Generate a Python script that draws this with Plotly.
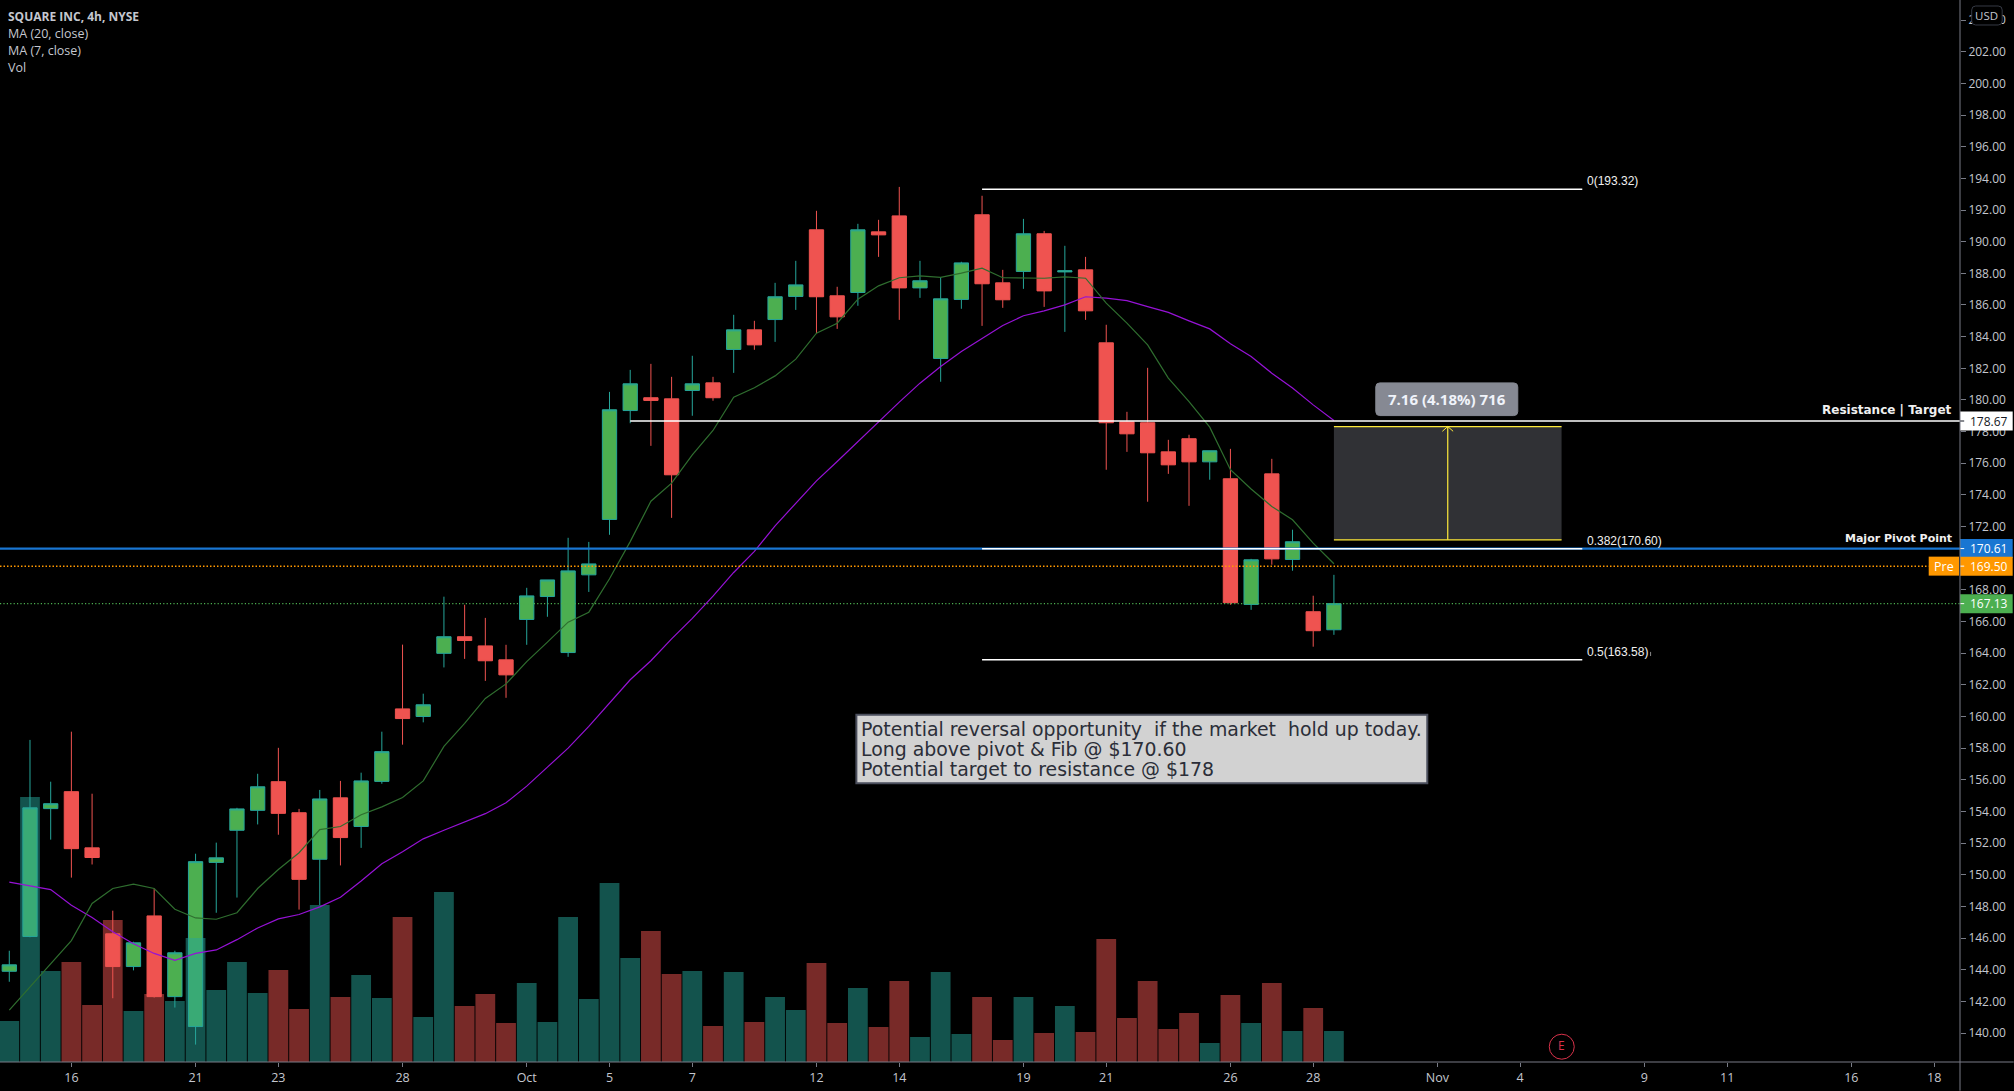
import plotly.graph_objects as go

# ---------- data ----------
bar_index = list(range(65))
opens = [143.90,146.10,154.18,155.25,151.70,146.27,144.20,147.40,142.30,140.41,150.78,152.81,154.07,155.88,153.92,150.98,154.86,153.05,155.90,160.48,160.00,163.99,165.04,164.46,163.58,166.13,167.58,164.04,168.95,172.45,179.33,180.14,180.07,180.60,181.08,183.19,184.43,185.08,186.54,190.75,186.58,186.79,190.62,191.63,187.08,182.62,186.35,191.70,187.40,188.12,190.50,188.09,188.22,183.61,178.62,178.56,176.72,177.55,176.09,175.02,167.08,175.33,169.92,166.62,165.48]
highs = [145.20,158.52,155.88,159.04,155.12,147.73,145.77,149.13,145.20,151.33,152.03,154.23,156.38,158.02,154.16,155.36,155.93,156.45,159.04,164.54,161.44,167.57,167.06,166.23,164.53,168.13,168.63,171.29,171.03,180.51,181.90,182.28,181.46,182.79,181.46,185.38,185.00,187.40,188.79,191.95,187.15,191.13,191.38,193.46,188.79,187.76,188.73,192.90,188.22,191.44,190.68,189.74,189.04,184.75,179.25,182.03,177.48,177.80,176.79,176.91,169.96,176.28,171.80,167.63,168.95]
lows = [143.24,146.05,152.22,149.82,150.65,142.20,143.96,142.24,141.61,139.27,147.60,148.56,153.18,152.53,147.80,148.08,150.59,151.70,155.75,158.22,159.63,163.10,163.64,162.25,161.18,164.53,166.30,163.77,167.87,171.48,178.53,177.10,172.55,179.00,179.95,181.71,183.17,183.67,185.69,184.22,184.49,185.95,189.04,185.06,186.45,181.15,185.76,184.68,185.82,187.02,185.88,184.30,185.06,175.59,176.72,173.57,175.33,173.31,174.96,167.06,166.74,169.59,169.21,164.41,165.16]
closes = [144.31,154.23,154.49,151.65,151.09,144.20,145.70,142.30,145.07,150.83,151.07,154.16,155.56,153.88,149.71,154.79,152.35,155.93,157.78,159.87,160.74,165.04,164.80,163.52,162.63,167.62,168.63,169.20,169.64,179.38,181.02,179.97,175.27,181.02,180.14,184.43,183.48,186.52,187.27,186.52,185.25,190.75,190.43,187.08,187.53,186.39,188.66,187.34,186.33,190.50,186.89,188.16,185.63,178.56,177.86,176.66,175.90,176.09,176.79,167.19,169.90,169.96,171.04,165.42,167.13]
volumes = [41,265,91,100,57,142,51,68,61,124,72,100,69,92,53,157,65,87,64,145,45,170,56,68,39,79,40,145,63,179,104,131,88,91,36,90,40,65,52,99,39,74,35,81,25,90,28,65,22,65,29,56,30,123,44,81,33,49,19,67,39,79,31,54,31]
ma7 = [141.45,142.91,144.37,145.84,148.19,149.13,149.41,149.13,147.82,147.27,147.19,147.60,149.13,150.33,151.39,152.85,153.05,153.79,154.29,154.88,155.93,158.11,159.57,161.14,162.06,163.47,164.70,165.96,166.59,168.70,171.05,173.60,174.74,176.53,178.07,180.18,180.77,181.52,182.58,184.22,184.85,186.37,187.21,187.72,187.84,187.74,188.01,188.33,187.72,187.69,187.69,187.78,187.69,186.12,184.85,183.48,181.38,179.90,178.28,175.59,174.37,173.27,172.43,170.95,169.65]
ma20 = [149.54,149.32,149.06,148.08,147.30,146.40,145.64,145.03,144.59,145.03,145.25,145.90,146.64,147.21,147.49,147.97,148.58,149.61,150.70,151.46,152.27,152.81,153.31,153.86,154.55,155.60,156.80,158.00,159.37,160.84,162.32,163.52,164.90,166.20,167.60,169.10,170.43,172.05,173.48,174.89,176.11,177.38,178.64,179.86,181.06,182.11,183.06,183.90,184.70,185.32,185.63,186.01,186.52,186.43,186.28,185.90,185.53,185.00,184.49,183.55,182.75,181.69,180.75,179.69,178.70]

x_tick_positions = [3,9,13,19,25,29,33,39,43,49,53,59,63,69,73,79,83,89,93]
x_tick_labels = ["16","21","23","28","Oct","5","7","12","14","19","21","26","28","Nov","4","9","11","16","18"]

fib_levels = [0, 0.382, 0.5]
fib_prices = [193.32, 170.60, 163.58]
fib_start, fib_end = 47, 76
resistance_price, resistance_start = 178.67, 30
pivot_price = 170.61
pre_price = 169.50
last_price = 167.13
measure_low, measure_high = 171.16, 178.32
measure_start, measure_end, measure_mid = 64, 75, 69.5

note_lines = ["Potential reversal opportunity\u00a0\u00a0if the market\u00a0\u00a0hold up today.",
              "Long above pivot & Fib @ $170.60",
              "Potential target to resistance @ $178"]
legend_lines = ["<b>SQUARE INC, 4h, NYSE</b>", "MA (20, close)", "MA (7, close)", "Vol"]
legend_sizes = [12, 12.5, 12.5, 12.5]

# ---------- layout constants ----------
W, H = 2014, 1091
PLOT_W, PLOT_H = 1960.3, 1062.3
X_RANGE = [-0.449, 94.25]
Y_RANGE = [138.17, 205.27]
PX_PER_UNIT = PLOT_H / (Y_RANGE[1] - Y_RANGE[0])
BG = "#000000"
AXIS = "#787b86"
TXT = "#c4c7cf"
UP_FILL, UP_LINE, DOWN = "#4caf50", "#26a69a", "#ef5350"
VOL_UP, VOL_DOWN = "rgba(38,166,154,0.5)", "rgba(239,83,80,0.5)"
FONT = "Open Sans"

px = lambda v: v / PLOT_W
py = lambda v: 1 - v / PLOT_H

fig = go.Figure()
fig.add_trace(go.Candlestick(
    x=bar_index, open=opens, high=highs, low=lows, close=closes, xaxis="x", yaxis="y",
    whiskerwidth=0,
    increasing=dict(fillcolor=UP_FILL, line=dict(color=UP_LINE, width=1)),
    decreasing=dict(fillcolor=DOWN, line=dict(color=DOWN, width=1)),
    hoverinfo="skip", showlegend=False))
fig.add_trace(go.Bar(
    x=bar_index, y=volumes, xaxis="x", yaxis="y2", width=0.955,
    marker=dict(color=[VOL_UP if c >= o else VOL_DOWN for o, c in zip(opens, closes)], line=dict(width=0)),
    hoverinfo="skip", showlegend=False))
fig.add_trace(go.Scatter(x=bar_index, y=ma20, xaxis="x", yaxis="y3", mode="lines",
                         line=dict(color="#9612d6", width=1.2), hoverinfo="skip", showlegend=False))
fig.add_trace(go.Scatter(x=bar_index, y=ma7, xaxis="x", yaxis="y3", mode="lines",
                         line=dict(color="#2f6e2f", width=1.2), hoverinfo="skip", showlegend=False))

shapes, annos = [], []

def hline(x0, x1, y, color, width, dash="solid", xref="x"):
    shapes.append(dict(type="line", xref=xref, yref="y", x0=x0, x1=x1, y0=y, y1=y,
                       line=dict(color=color, width=width, dash=dash), layer="above"))

def text(x, y, s, size, color, xref="paper", yref="paper", xanchor="left", yanchor="middle",
         family=FONT, xshift=0, yshift=0):
    annos.append(dict(x=x, y=y, xref=xref, yref=yref, text=s, showarrow=False, xanchor=xanchor,
                      yanchor=yanchor, xshift=xshift, yshift=yshift, align="left", borderpad=0,
                      font=dict(family=family, size=size, color=color)))

def round_rect(x0, y0, x1, y1, r, fill, line=None):
    p = (f"M {px(x0+r)} {py(y0)} L {px(x1-r)} {py(y0)} Q {px(x1)} {py(y0)} {px(x1)} {py(y0+r)} "
         f"L {px(x1)} {py(y1-r)} Q {px(x1)} {py(y1)} {px(x1-r)} {py(y1)} L {px(x0+r)} {py(y1)} "
         f"Q {px(x0)} {py(y1)} {px(x0)} {py(y1-r)} L {px(x0)} {py(y0+r)} Q {px(x0)} {py(y0)} {px(x0+r)} {py(y0)} Z")
    shapes.append(dict(type="path", xref="paper", yref="paper", path=p, fillcolor=fill,
                       line=dict(color=line or fill, width=1), layer="above"))

# horizontal levels
hline(X_RANGE[0], X_RANGE[1], pivot_price, "#1976d2", 2.2)
hline(X_RANGE[0], px(1929) * (X_RANGE[1] - X_RANGE[0]) + X_RANGE[0], pre_price, "#ff9800", 1.5, dash="1.5px,2px")
hline(X_RANGE[0], X_RANGE[1], last_price, "#4caf50", 1.2, dash="1.2px,2.2px")
hline(resistance_start, X_RANGE[1], resistance_price, "#ffffff", 1.5)
for lvl, price in zip(fib_levels, fib_prices):
    hline(fib_start, fib_end, price, "#ffffff", 1.5)
    text(fib_end, price, f"{lvl}({price:.2f})", 12, "#f0f0f0", xref="x", yref="y",
         family="Liberation Sans", xshift=3.5, yshift=8)
shapes.append(dict(type="line", xref="x", yref="y", x0=79.3, x1=79.3, y0=163.82, y1=164.08,
                   line=dict(color="#888888", width=1), layer="above"))

# measure box
shapes.append(dict(type="rect", xref="x", yref="y", x0=measure_start, x1=measure_end,
                   y0=measure_low, y1=measure_high, fillcolor="#303135", line=dict(width=0), layer="above"))
hline(measure_start, measure_end, measure_high, "#ffeb3b", 1.3)
hline(measure_start, measure_end, measure_low, "#ffeb3b", 1.3)
shapes.append(dict(type="line", xref="x", yref="y", x0=measure_mid, x1=measure_mid, y0=measure_low,
                   y1=measure_high, line=dict(color="#ffeb3b", width=1.2), layer="above"))
shapes.append(dict(type="path", xref="x", yref="y", layer="above", line=dict(color="#ffeb3b", width=1),
                   path=f"M {measure_mid-0.26} {measure_high-0.3} L {measure_mid} {measure_high} L {measure_mid+0.26} {measure_high-0.3}"))
round_rect(1376, 383, 1518, 415.7, 4, "#868993")
text(px(1447), py(399.5), "<b>7.16 (4.18%) 716</b>", 15, "#f0f3fa", xanchor="center")

# note box
shapes.append(dict(type="rect", xref="paper", yref="paper", x0=px(856.5), x1=px(1427.5), y0=py(715), y1=py(783.5),
                   fillcolor="#d2d2d2", line=dict(color="#4a4e5c", width=2), layer="above"))
for s, yy in zip(note_lines, [729.3, 749.5, 769.7]):
    text(px(860), py(yy), s, 18.9, "#2b2e38", family="DejaVu Sans")

# side labels on the price scale
def axis_tag(price, bg, fg):
    half = 9.5 / PX_PER_UNIT
    shapes.append(dict(type="rect", xref="paper", yref="y", x0=1, x1=px(2013), y0=price-half, y1=price+half,
                       fillcolor=bg, line=dict(width=0), layer="above"))
    shapes.append(dict(type="line", xref="paper", yref="y", x0=1, x1=px(1964.5), y0=price, y1=price,
                       line=dict(color=fg, width=1), layer="above"))
    text(px(1969), price, f"{price:.2f}", 12, fg, yref="y")

axis_tag(resistance_price, "#ffffff", "#131722")
axis_tag(pivot_price, "#1976d2", "#ffffff")
axis_tag(pre_price, "#ff9800", "#ffffff")
axis_tag(last_price, "#4caf50", "#ffffff")
half = 9.5 / PX_PER_UNIT
shapes.append(dict(type="rect", xref="paper", yref="y", x0=px(1929), x1=px(1959.3), y0=pre_price-half, y1=pre_price+half,
                   fillcolor="#ff9800", line=dict(width=0), layer="above"))
text(px(1944), pre_price, "Pre", 12.5, "#ffffff", yref="y", xanchor="center")

# level captions
text(px(1953), resistance_price, "<b>Resistance | Target</b>", 12, "#f0f0f0", yref="y",
     xanchor="right", yanchor="bottom", yshift=3, family="DejaVu Sans")
text(px(1953), pivot_price, "<b>Major Pivot Point</b>", 11, "#f0f0f0", yref="y",
     xanchor="right", yanchor="bottom", yshift=3, family="DejaVu Sans")

# top-left legend
for s, yy, size in zip(legend_lines, [16.5, 33.5, 50.5, 67.3], legend_sizes):
    text(px(7.5), py(yy), s, size, TXT)

# USD box
round_rect(1972, 6, 2002.5, 25, 4, "#000000", "#363a45")
text(px(1987.2), py(15.3), "USD", 11.5, TXT, xanchor="center")

# earnings marker
shapes.append(dict(type="circle", xref="paper", yref="paper", x0=px(1549.5), x1=px(1574.5), y0=py(1059.5), y1=py(1034.5),
                   line=dict(color="#d8324a", width=1), fillcolor="rgba(0,0,0,0)", layer="above"))
text(px(1562), py(1046), "E", 12, "#d8324a", xanchor="center")

# axis line extensions to the page edges
shapes.append(dict(type="line", xref="paper", yref="paper", x0=1, x1=1, y0=1, y1=py(H),
                   line=dict(color=AXIS, width=1), layer="above"))
shapes.append(dict(type="line", xref="paper", yref="paper", x0=0, x1=px(W), y0=0, y1=0,
                   line=dict(color=AXIS, width=1), layer="above"))

fig.update_layout(
    width=W, height=H, paper_bgcolor=BG, plot_bgcolor=BG, showlegend=False, hovermode=False,
    boxgap=0.31, boxgroupgap=0,
    margin=dict(l=0, r=W - PLOT_W, t=0, b=H - PLOT_H, pad=0, autoexpand=False),
    font=dict(family=FONT, color=TXT, size=12),
    xaxis=dict(range=X_RANGE, tickmode="array", tickvals=x_tick_positions, ticktext=x_tick_labels,
               ticks="outside", ticklen=4, tickcolor=AXIS, tickwidth=1, showgrid=False, zeroline=False,
               showline=False, rangeslider=dict(visible=False), tickfont=dict(color=TXT, size=12.5, family=FONT)),
    yaxis=dict(range=Y_RANGE, side="right", tick0=140, dtick=2, tickformat=".2f", ticks="outside", ticklen=5,
               tickcolor=AXIS, tickwidth=1, showgrid=False, zeroline=False, showline=False,
               tickfont=dict(color=TXT, size=12, family=FONT)),
    yaxis2=dict(range=[0, PLOT_H], overlaying="y", visible=False, fixedrange=True),
    yaxis3=dict(range=Y_RANGE, overlaying="y", visible=False, fixedrange=True),
    shapes=shapes, annotations=annos,
)

fig.write_html("out.html", config=dict(displayModeBar=False),
               post_script="document.body.style.margin='0';document.body.style.background='#000';document.documentElement.style.overflow='hidden';")
